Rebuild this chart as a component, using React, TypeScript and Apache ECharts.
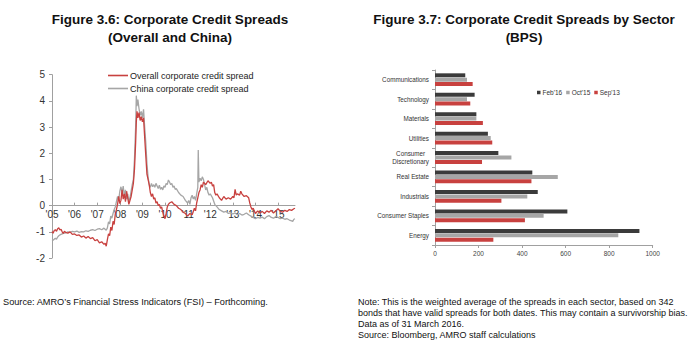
import React, { useEffect, useRef } from "react";
import * as echarts from "echarts";

// ---- Figure 3.6 data: [year, spread] ----
const overallSpread: [number, number][] = [
  [2005.0, -0.99], [2005.05, -1.05], [2005.1, -0.95], [2005.15, -0.92], [2005.2, -0.98], [2005.25, -0.88],
  [2005.3, -0.85], [2005.35, -0.93], [2005.4, -0.9], [2005.45, -1.0], [2005.5, -1.06], [2005.55, -0.98],
  [2005.6, -1.02], [2005.7, -1.05], [2005.8, -1.0], [2005.9, -1.1], [2006.0, -1.08], [2006.1, -1.14],
  [2006.2, -1.12], [2006.3, -1.2], [2006.4, -1.16], [2006.5, -1.24], [2006.6, -1.18], [2006.7, -1.26],
  [2006.8, -1.22], [2006.9, -1.34], [2007.0, -1.3], [2007.1, -1.42], [2007.2, -1.38], [2007.3, -1.48],
  [2007.35, -1.44], [2007.4, -1.55], [2007.45, -1.3], [2007.5, -1.08], [2007.55, -1.15], [2007.6, -0.82],
  [2007.65, -0.95], [2007.7, -0.6], [2007.75, -0.72], [2007.8, -0.32], [2007.85, -0.15], [2007.9, 0.05],
  [2007.95, 0.35], [2008.0, 0.08], [2008.05, 0.2], [2008.1, 0.6], [2008.15, 0.25], [2008.2, 0.45],
  [2008.25, 0.15], [2008.3, 0.55], [2008.35, 0.3], [2008.4, 0.05], [2008.45, 0.2], [2008.5, 0.35],
  [2008.55, 0.6], [2008.6, 0.85], [2008.65, 1.4], [2008.7, 2.4], [2008.73, 3.2], [2008.76, 3.6],
  [2008.8, 3.35], [2008.85, 3.55], [2008.9, 3.25], [2008.95, 3.4], [2009.0, 3.2], [2009.05, 3.35],
  [2009.1, 2.6], [2009.15, 1.9], [2009.2, 1.2], [2009.25, 1.0], [2009.3, 0.8], [2009.35, 0.5],
  [2009.4, 0.35], [2009.45, 0.45], [2009.5, 0.25], [2009.55, 0.3], [2009.6, 0.1], [2009.65, 0.15],
  [2009.7, 0.0], [2009.75, 0.05], [2009.8, -0.1], [2009.85, -0.05], [2009.9, -0.25], [2009.95, -0.4],
  [2010.0, -0.5], [2010.05, -0.3], [2010.1, -0.05], [2010.15, 0.05], [2010.2, 0.1], [2010.3, 0.15],
  [2010.4, 0.05], [2010.5, 0.0], [2010.6, -0.1], [2010.7, -0.15], [2010.8, -0.25], [2010.9, -0.3],
  [2011.0, -0.4], [2011.1, -0.3], [2011.2, -0.35], [2011.3, -0.1], [2011.35, -0.2], [2011.4, 0.1],
  [2011.45, 0.3], [2011.5, 0.5], [2011.55, 0.6], [2011.6, 0.8], [2011.65, 0.7], [2011.7, 0.9],
  [2011.8, 0.8], [2011.9, 0.95], [2012.0, 0.85], [2012.05, 0.9], [2012.1, 0.75], [2012.15, 0.8],
  [2012.2, 0.5], [2012.25, 0.4], [2012.3, 0.45], [2012.4, 0.3], [2012.5, 0.2], [2012.6, 0.35],
  [2012.7, 0.25], [2012.8, 0.3], [2012.9, 0.25], [2013.0, 0.35], [2013.05, 0.3], [2013.1, 0.62],
  [2013.15, 0.4], [2013.2, 0.45], [2013.3, 0.4], [2013.35, 0.55], [2013.4, 0.45], [2013.5, 0.35],
  [2013.6, 0.38], [2013.7, 0.3], [2013.75, 0.1], [2013.8, -0.05], [2013.85, -0.15], [2013.9, -0.1],
  [2014.0, -0.3], [2014.1, -0.2], [2014.2, -0.28], [2014.3, -0.22], [2014.4, -0.3], [2014.5, -0.2],
  [2014.6, -0.25], [2014.7, -0.18], [2014.8, -0.28], [2014.9, -0.2], [2015.0, -0.12], [2015.1, -0.22],
  [2015.2, -0.25], [2015.3, -0.18], [2015.4, -0.22], [2015.5, -0.15], [2015.6, -0.18], [2015.7, -0.12],
  [2015.75, -0.1],
];

const chinaSpread: [number, number][] = [
  [2005.0, -1.3], [2005.05, -1.32], [2005.1, -1.28], [2005.15, -1.25], [2005.2, -1.28], [2005.25, -1.2],
  [2005.3, -1.15], [2005.35, -1.12], [2005.4, -1.1], [2005.5, -1.06], [2005.6, -1.04], [2005.7, -1.0],
  [2005.8, -1.02], [2005.9, -0.98], [2006.0, -1.0], [2006.1, -0.97], [2006.2, -1.02], [2006.3, -0.99],
  [2006.4, -1.0], [2006.5, -0.96], [2006.6, -0.98], [2006.7, -0.94], [2006.8, -0.92], [2006.9, -0.95],
  [2007.0, -0.9], [2007.1, -0.88], [2007.2, -0.92], [2007.3, -0.86], [2007.4, -0.94], [2007.45, -0.85],
  [2007.5, -0.62], [2007.55, -0.7], [2007.6, -0.4], [2007.65, -0.48], [2007.7, -0.3], [2007.75, -0.15],
  [2007.8, -0.05], [2007.85, 0.15], [2007.9, 0.35], [2007.95, 0.2], [2008.0, 0.55], [2008.05, 0.72],
  [2008.1, 0.5], [2008.15, 0.75], [2008.2, 0.35], [2008.25, 0.6], [2008.3, 0.25], [2008.35, 0.45],
  [2008.4, 0.15], [2008.45, 0.3], [2008.5, 0.55], [2008.55, 0.8], [2008.6, 1.0], [2008.65, 1.8],
  [2008.7, 3.0], [2008.73, 4.2], [2008.76, 3.8], [2008.8, 4.05], [2008.85, 3.7], [2008.9, 3.45],
  [2008.95, 3.6], [2009.0, 3.35], [2009.05, 3.68], [2009.1, 3.0], [2009.15, 2.4], [2009.2, 1.6],
  [2009.25, 1.1], [2009.3, 0.8], [2009.35, 0.7], [2009.4, 0.85], [2009.45, 0.72], [2009.5, 0.8],
  [2009.55, 0.7], [2009.6, 0.85], [2009.65, 0.75], [2009.7, 0.65], [2009.75, 0.78], [2009.8, 0.62],
  [2009.85, 0.7], [2009.9, 0.6], [2009.95, 0.75], [2010.0, 0.7], [2010.05, 0.85], [2010.1, 0.8],
  [2010.15, 0.98], [2010.2, 0.9], [2010.25, 0.8], [2010.3, 0.85], [2010.35, 0.7], [2010.4, 0.75],
  [2010.45, 0.62], [2010.5, 0.65], [2010.6, 0.5], [2010.7, 0.4], [2010.8, 0.35], [2010.9, 0.2],
  [2011.0, 0.1], [2011.05, 0.2], [2011.1, 0.05], [2011.15, 0.3], [2011.2, 0.4], [2011.25, 0.25],
  [2011.3, 0.35], [2011.35, 0.2], [2011.4, 0.45], [2011.45, 0.7], [2011.47, 2.12], [2011.5, 0.9],
  [2011.55, 1.05], [2011.6, 0.95], [2011.65, 1.1], [2011.7, 1.0], [2011.75, 0.8], [2011.8, 0.6],
  [2011.85, 0.7], [2011.9, 0.5], [2011.95, 0.4], [2012.0, 0.45], [2012.1, 0.3], [2012.2, 0.05],
  [2012.25, 0.0], [2012.3, -0.05], [2012.4, -0.15], [2012.5, -0.2], [2012.6, -0.25], [2012.7, -0.22],
  [2012.8, -0.3], [2012.9, -0.28], [2013.0, -0.32], [2013.1, -0.28], [2013.2, -0.35], [2013.3, -0.3],
  [2013.4, -0.36], [2013.5, -0.33], [2013.6, -0.28], [2013.7, -0.35], [2013.8, -0.4], [2013.9, -0.45],
  [2014.0, -0.5], [2014.1, -0.45], [2014.2, -0.48], [2014.3, -0.44], [2014.4, -0.5], [2014.5, -0.42],
  [2014.6, -0.38], [2014.7, -0.45], [2014.8, -0.48], [2014.9, -0.42], [2015.0, -0.45], [2015.1, -0.5],
  [2015.2, -0.48], [2015.3, -0.52], [2015.4, -0.5], [2015.5, -0.55], [2015.6, -0.58], [2015.65, -0.6],
  [2015.7, -0.52], [2015.75, -0.5],
];

const yearTicks = [2005, 2006, 2007, 2008, 2009, 2010, 2011, 2012, 2013, 2014, 2015];

// ---- Figure 3.7 data (bps) ----
const sectors = [
  "Energy", "Consumer Staples", "Industrials", "Real Estate", "Consumer\nDiscretionary",
  "Utilities", "Materials", "Technology", "Communications",
];
const feb16 = [939, 608, 472, 447, 291, 243, 190, 182, 139];
const oct15 = [842, 499, 424, 564, 351, 256, 190, 147, 147];
const sep13 = [268, 413, 305, 443, 216, 263, 220, 162, 173];

const FONT = "'Liberation Sans', Arial, sans-serif";
const RED = "#c8413f";
const GREY = "#a6a6a6";
const DARK = "#3b3b3b";
const AXIS = "#a0a0a0";

// left grid geometry
const G1_TOP = 74.7;
const G1_H = 183.3;
const Y_MIN = -2;
const Y_MAX = 5;

export default function App() {
  const ref = useRef<HTMLDivElement>(null);
  useEffect(() => {
    if (!ref.current) return;
    const chart = echarts.init(ref.current, null, { renderer: "svg" });
    // offset that lifts the bottom x axis up to the y=0 level of the left grid
    const zeroOffset = -(G1_H * (0 - Y_MIN)) / (Y_MAX - Y_MIN);
    const noteStyle = { fontSize: 9, fill: "#111", fontFamily: FONT, textVerticalAlign: "middle" };
    const option: any = {
      animation: false,
      backgroundColor: "#ffffff",
      textStyle: { fontFamily: FONT },
      legend: [
        {
          data: ["Overall corporate credit spread", "China corporate credit spread"],
          orient: "vertical",
          left: 103,
          top: 66,
          icon: "rect",
          itemWidth: 20,
          itemHeight: 1.6,
          itemGap: 4,
          textStyle: { fontSize: 9, color: "#222", fontFamily: FONT, padding: [0, 0, 0, -3] },
        },
        {
          data: ["Feb'16", "Oct'15", "Sep'13"],
          orient: "horizontal",
          left: 532,
          top: 84,
          icon: "rect",
          itemWidth: 3.5,
          itemHeight: 3.5,
          itemGap: 4,
          textStyle: { fontSize: 6.5, color: "#333", fontFamily: FONT, padding: [0, 0, 0, -3] },
        },
      ],
      grid: [
        { left: 52, top: G1_TOP, width: 243, height: G1_H },
        { left: 435, top: 70, width: 217.7, height: 175 },
      ],
      xAxis: [
        {
          gridIndex: 0,
          type: "value",
          position: "bottom",
          offset: zeroOffset,
          min: 2005,
          max: 2015.75,
          axisLine: { onZero: false, lineStyle: { color: AXIS, width: 1 } },
          axisTick: { show: true, inside: true, length: 3, customValues: yearTicks, lineStyle: { color: AXIS } },
          axisLabel: {
            customValues: yearTicks,
            formatter: (v: number) => "'" + String(Math.round(v)).slice(2),
            fontSize: 10,
            color: "#333",
            margin: 4,
            fontFamily: FONT,
          },
          splitLine: { show: false },
        },
        {
          gridIndex: 1,
          type: "value",
          min: 0,
          max: 1000,
          interval: 200,
          axisLine: { show: true, lineStyle: { color: AXIS } },
          axisTick: { show: true, length: 3, lineStyle: { color: AXIS } },
          axisLabel: { fontSize: 6.5, color: "#444", margin: 5, fontFamily: FONT, formatter: (v: number) => String(v) },
          splitLine: { show: false },
        },
      ],
      yAxis: [
        {
          gridIndex: 0,
          type: "value",
          min: Y_MIN,
          max: Y_MAX,
          interval: 1,
          axisLine: { show: true, lineStyle: { color: AXIS } },
          axisTick: { show: true, length: 3, lineStyle: { color: AXIS } },
          axisLabel: { fontSize: 10, color: "#333", margin: 7, fontFamily: FONT },
          splitLine: { show: false },
        },
        {
          gridIndex: 1,
          type: "category",
          data: sectors,
          axisLine: { show: true, lineStyle: { color: AXIS } },
          axisTick: { show: true, length: 3, lineStyle: { color: AXIS } },
          axisLabel: {
            fontSize: 6.3,
            color: "#333",
            margin: 6,
            lineHeight: 8,
            fontFamily: FONT,
            formatter: (v: string) => v.split("\n").map((s) => "{c|" + s + "}").join("\n"),
            rich: { c: { align: "center", fontSize: 6.3, color: "#333", lineHeight: 8, fontFamily: FONT } },
          },
          splitLine: { show: false },
        },
      ],
      series: [
        {
          name: "China corporate credit spread",
          type: "line",
          xAxisIndex: 0,
          yAxisIndex: 0,
          data: chinaSpread,
          showSymbol: false,
          lineStyle: { color: GREY, width: 1.3 },
          itemStyle: { color: GREY },
        },
        {
          name: "Overall corporate credit spread",
          type: "line",
          xAxisIndex: 0,
          yAxisIndex: 0,
          data: overallSpread,
          showSymbol: false,
          lineStyle: { color: RED, width: 1.3 },
          itemStyle: { color: RED },
        },
        {
          name: "Feb'16",
          type: "bar",
          xAxisIndex: 1,
          yAxisIndex: 1,
          data: feb16,
          barWidth: 4,
          barGap: "10%",
          itemStyle: { color: DARK },
        },
        {
          name: "Oct'15",
          type: "bar",
          xAxisIndex: 1,
          yAxisIndex: 1,
          data: oct15,
          barWidth: 4,
          barGap: "10%",
          itemStyle: { color: GREY },
        },
        {
          name: "Sep'13",
          type: "bar",
          xAxisIndex: 1,
          yAxisIndex: 1,
          data: sep13,
          barWidth: 4,
          barGap: "10%",
          itemStyle: { color: RED },
        },
      ],
      graphic: [
        { type: "text", x: 170, y: 19, style: { text: "Figure 3.6: Corporate Credit Spreads", fontSize: 13.5, fontWeight: "bold", fill: "#111", fontFamily: FONT, textAlign: "center", textVerticalAlign: "middle" } },
        { type: "text", x: 170, y: 37.5, style: { text: "(Overall and China)", fontSize: 13.5, fontWeight: "bold", fill: "#111", fontFamily: FONT, textAlign: "center", textVerticalAlign: "middle" } },
        { type: "text", x: 524, y: 19, style: { text: "Figure 3.7: Corporate Credit Spreads by Sector", fontSize: 13.5, fontWeight: "bold", fill: "#111", fontFamily: FONT, textAlign: "center", textVerticalAlign: "middle" } },
        { type: "text", x: 524, y: 37.5, style: { text: "(BPS)", fontSize: 13.5, fontWeight: "bold", fill: "#111", fontFamily: FONT, textAlign: "center", textVerticalAlign: "middle" } },
        { type: "text", x: 3, y: 302, style: { ...noteStyle, fontSize: 9.2, text: "Source: AMRO\u2019s Financial Stress Indicators (FSI) \u2013 Forthcoming." } },
        { type: "text", x: 358, y: 302, style: { ...noteStyle, text: "Note: This is the weighted average of the spreads in each sector, based on 342" } },
        { type: "text", x: 358, y: 313, style: { ...noteStyle, text: "bonds that have valid spreads for both dates. This may contain a survivorship bias." } },
        { type: "text", x: 358, y: 324, style: { ...noteStyle, text: "Data as of 31 March 2016." } },
        { type: "text", x: 358, y: 335, style: { ...noteStyle, text: "Source: Bloomberg, AMRO staff calculations" } },
      ],
    };
    chart.setOption(option);
    return () => chart.dispose();
  }, []);
  return (
    <div
      ref={ref}
      style={{ position: "fixed", left: 0, top: 0, width: 695, height: 361, background: "#fff" }}
    />
  );
}
